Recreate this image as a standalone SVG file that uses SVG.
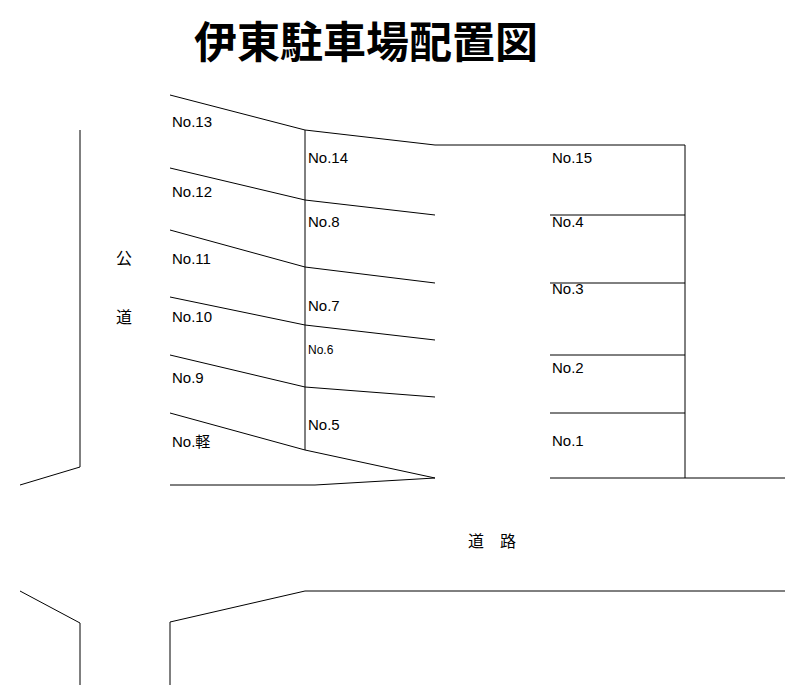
<svg xmlns="http://www.w3.org/2000/svg" width="806" height="700" viewBox="0 0 806 700">
<style>
.l{fill:none;stroke:#000;stroke-width:1}
.t{font-family:"Liberation Sans","Noto Sans CJK JP",sans-serif;font-size:15px;fill:#000}
.s{font-size:12px}
.k{font-family:"Noto Sans CJK JP",sans-serif;font-size:16px;fill:#000}
</style>
<rect width="806" height="700" fill="#fff"/>
<text x="366" y="58" text-anchor="middle" font-family="'Noto Sans CJK JP',sans-serif" font-size="43" font-weight="bold">伊東駐車場配置図</text>
<g class="l">
<polyline points="80,130 80,467 20,485"/>
<polyline points="20,591 80,623 80,685"/>
<polyline points="170,95 305,130 435,145 685,145"/>
<polyline points="170,168 305,200 435,215"/>
<polyline points="170,230 305,267 435,283"/>
<polyline points="170,297 305,325 435,340"/>
<polyline points="170,355 305,387 435,397"/>
<polyline points="170,413 305,450 435,478"/>
<line x1="305" y1="130" x2="305" y2="450"/>
<polyline points="170,485 315,485 435,478"/>
<line x1="550" y1="215" x2="685" y2="215"/>
<line x1="550" y1="283" x2="685" y2="283"/>
<line x1="550" y1="355" x2="685" y2="355"/>
<line x1="550" y1="413" x2="685" y2="413"/>
<line x1="685" y1="145" x2="685" y2="478"/>
<line x1="550" y1="478" x2="785" y2="478"/>
<polyline points="170,685 170,622 305,591 785,591"/>
</g>
<g class="t">
<text x="172" y="127">No.13</text>
<text x="172" y="197">No.12</text>
<text x="172" y="264">No.11</text>
<text x="172" y="322">No.10</text>
<text x="172" y="383">No.9</text>
<text x="172" y="447">No.軽</text>
<text x="308" y="163">No.14</text>
<text x="308" y="227">No.8</text>
<text x="308" y="311">No.7</text>
<text x="308" y="354" class="s">No.6</text>
<text x="308" y="430">No.5</text>
<text x="552" y="163">No.15</text>
<text x="552" y="227">No.4</text>
<text x="552" y="294">No.3</text>
<text x="552" y="373">No.2</text>
<text x="552" y="446">No.1</text>
</g>
<g class="k">
<text x="116" y="264">公</text>
<text x="116" y="323">道</text>
<text x="468" y="547">道</text>
<text x="500" y="547">路</text>
</g>
</svg>
